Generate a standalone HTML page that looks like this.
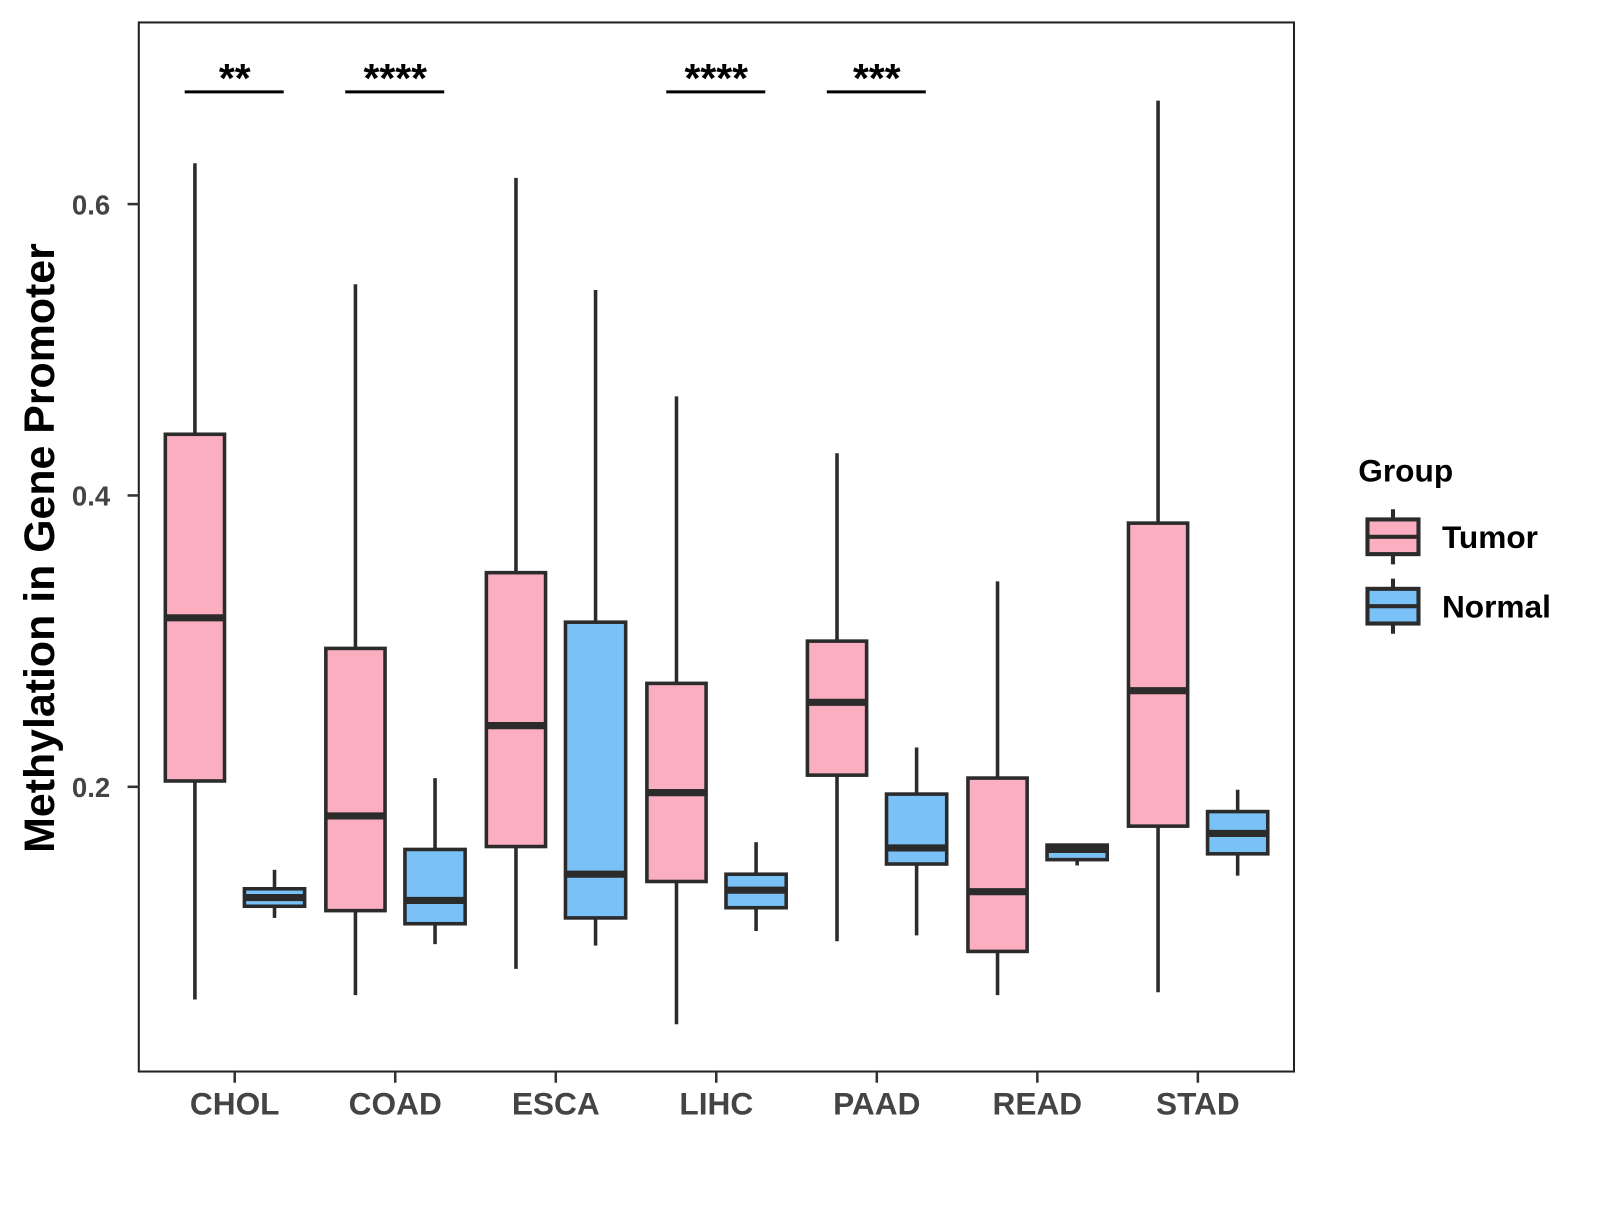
<!DOCTYPE html>
<html><head><meta charset="utf-8"><style>
body{margin:0;background:#fff}
svg text{font-family:"Liberation Sans",Arial,sans-serif;font-weight:bold}
</style></head><body>
<svg id="chart" width="1600" height="1200" viewBox="0 0 1600 1200" xmlns="http://www.w3.org/2000/svg">
<g transform="scale(1.0205)">
<rect x="136" y="22" width="1132" height="1028" fill="#fff" stroke="#222" stroke-width="2"/>
<g id="marks"></g>
<g id="axes"></g>
<text transform="translate(53,537) rotate(-90)" text-anchor="middle" font-size="42" fill="#000">Methylation in Gene Promoter</text>
<g>
<text x="1331" y="472" font-size="31" fill="#000">Group</text>
<g>
<line x1="1365" y1="499" x2="1365" y2="553" stroke="#2b2b2b" stroke-width="4"/>
<rect x="1340" y="509" width="50" height="34" fill="#fbaec0" stroke="#2b2b2b" stroke-width="4"/>
<line x1="1340" y1="526" x2="1390" y2="526" stroke="#2b2b2b" stroke-width="4"/>
<text x="1413" y="537" font-size="31" fill="#000">Tumor</text></g>
<g>
<line x1="1365" y1="567" x2="1365" y2="621" stroke="#2b2b2b" stroke-width="4"/>
<rect x="1340" y="577" width="50" height="34" fill="#79c1f7" stroke="#2b2b2b" stroke-width="4"/>
<line x1="1340" y1="594" x2="1390" y2="594" stroke="#2b2b2b" stroke-width="4"/>
<text x="1413" y="605" font-size="31" fill="#000">Normal</text></g>
</g>
</g>
</svg>
<script>
const categories=["CHOL","COAD","ESCA","LIHC","PAAD","READ","STAD"];
// [whiskerLow, Q1, median, Q3, whiskerHigh]
const tumorStats=[[0.054,0.204,0.316,0.442,0.628],[0.057,0.115,0.180,0.295,0.545],[0.075,0.159,0.242,0.347,0.618],[0.037,0.135,0.196,0.271,0.468],[0.094,0.208,0.258,0.300,0.429],[0.057,0.087,0.128,0.206,0.341],[0.059,0.173,0.266,0.381,0.671]];
const normalStats=[[0.110,0.118,0.124,0.130,0.143],[0.092,0.106,0.122,0.157,0.206],[0.091,0.110,0.140,0.313,0.541],[0.101,0.117,0.129,0.140,0.162],[0.098,0.147,0.158,0.195,0.227],[0.146,0.150,0.157,0.160,0.161],[0.139,0.154,0.168,0.183,0.198]];
const sigLabels=["**","****","","****","***","",""];
const yTicks=[0.2,0.4,0.6];
const yTickLabels=["0.2","0.4","0.6"];
const NS="http://www.w3.org/2000/svg";
function yS(v){return 771-(v-0.2)*1427.5;}
function xS(i){return 230+i*157.3;}
function mk(tag,attrs,parent){const e=document.createElementNS(NS,tag);for(const k in attrs)e.setAttribute(k,attrs[k]);parent.appendChild(e);return e;}
const marks=document.getElementById('marks'),axes=document.getElementById('axes');
function drawBox(s,cx,w,fill,name){
  const g=mk('g',{},marks);
  
  
  mk('line',{x1:cx,x2:cx,y1:yS(s[4]),y2:yS(s[3]),stroke:'#2b2b2b','stroke-width':3.5},g);
  mk('line',{x1:cx,x2:cx,y1:yS(s[1]),y2:yS(s[0]),stroke:'#2b2b2b','stroke-width':3.5},g);
  mk('rect',{x:cx-w/2,y:yS(s[3]),width:w,height:yS(s[1])-yS(s[3]),fill:fill,stroke:'#2b2b2b','stroke-width':3.5},g);
  mk('line',{x1:cx-w/2,x2:cx+w/2,y1:yS(s[2]),y2:yS(s[2]),stroke:'#2b2b2b','stroke-width':7},g);
}
categories.forEach((c,i)=>{
  drawBox(tumorStats[i],xS(i)-39,58,'#fbaec0','box-tumor-'+c.toLowerCase());
  drawBox(normalStats[i],xS(i)+39,59,'#79c1f7','box-normal-'+c.toLowerCase());
  if(sigLabels[i]){
    const g=mk('g',{},marks);
    
    
    mk('line',{x1:xS(i)-49,x2:xS(i)+48,y1:90,y2:90,stroke:'#000','stroke-width':3},g);
    const t=mk('text',{x:xS(i),y:90,'text-anchor':'middle','font-size':40,fill:'#000'},g);
    t.textContent=sigLabels[i];
  }
  mk('line',{x1:xS(i),x2:xS(i),y1:1050,y2:1061,stroke:'#333','stroke-width':2.5},axes);
  const t=mk('text',{x:xS(i),y:1092,'text-anchor':'middle','font-size':31,fill:'#444'},axes);
  
  
  t.textContent=c;
});
yTicks.forEach((v,i)=>{
  mk('line',{x1:125,x2:136,y1:yS(v),y2:yS(v),stroke:'#333','stroke-width':2.5},axes);
  const t=mk('text',{x:108,y:yS(v)+10,'text-anchor':'end','font-size':27,fill:'#444'},axes);
  
  
  t.textContent=yTickLabels[i];
});
</script>
</body></html>
